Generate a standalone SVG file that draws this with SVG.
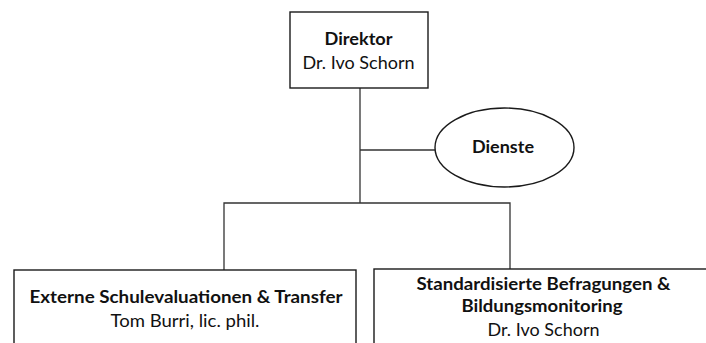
<svg xmlns="http://www.w3.org/2000/svg" width="706" height="343" viewBox="0 0 706 343">
<style>
.box{fill:#fff;stroke:#1a1a1a;stroke-width:1.4}
.ln{fill:none;stroke:#333;stroke-width:1.3}
text{font-family:Lato,"Liberation Sans",sans-serif;font-size:16.5px;fill:#111;text-anchor:middle}
.b{font-weight:bold}
</style>
<rect width="706" height="343" fill="#fff"/>
<g id="connectors">
<path class="ln" d="M360 88 V203 M360 150 H435 M224 270 V203 H510 V269"/>
</g>
<g id="direktor">
<rect class="box" x="290" y="12" width="138" height="76"/>
<text class="b" x="358.5" y="45" textLength="68" lengthAdjust="spacingAndGlyphs">Direktor</text>
<text x="358.5" y="69" textLength="112" lengthAdjust="spacingAndGlyphs">Dr. Ivo Schorn</text>
</g>
<g id="dienste">
<ellipse class="box" cx="504.5" cy="147.5" rx="69.5" ry="39.5"/>
<text class="b" x="503" y="153" textLength="62" lengthAdjust="spacingAndGlyphs">Dienste</text>
</g>
<g id="externe">
<rect class="box" x="14" y="270" width="342" height="90"/>
<text class="b" x="186" y="303" textLength="313" lengthAdjust="spacingAndGlyphs">Externe Schulevaluationen &amp; Transfer</text>
<text x="185" y="327" textLength="149" lengthAdjust="spacingAndGlyphs">Tom Burri, lic.  phil.</text>
</g>
<g id="standardisierte">
<rect class="box" x="374" y="269" width="340" height="90"/>
<text class="b" x="543.5" y="290" textLength="254" lengthAdjust="spacingAndGlyphs">Standardisierte Befragungen &amp;</text>
<text class="b" x="542" y="312" textLength="161" lengthAdjust="spacingAndGlyphs">Bildungsmonitoring</text>
<text x="543.5" y="336" textLength="112" lengthAdjust="spacingAndGlyphs">Dr. Ivo Schorn</text>
</g>
</svg>
